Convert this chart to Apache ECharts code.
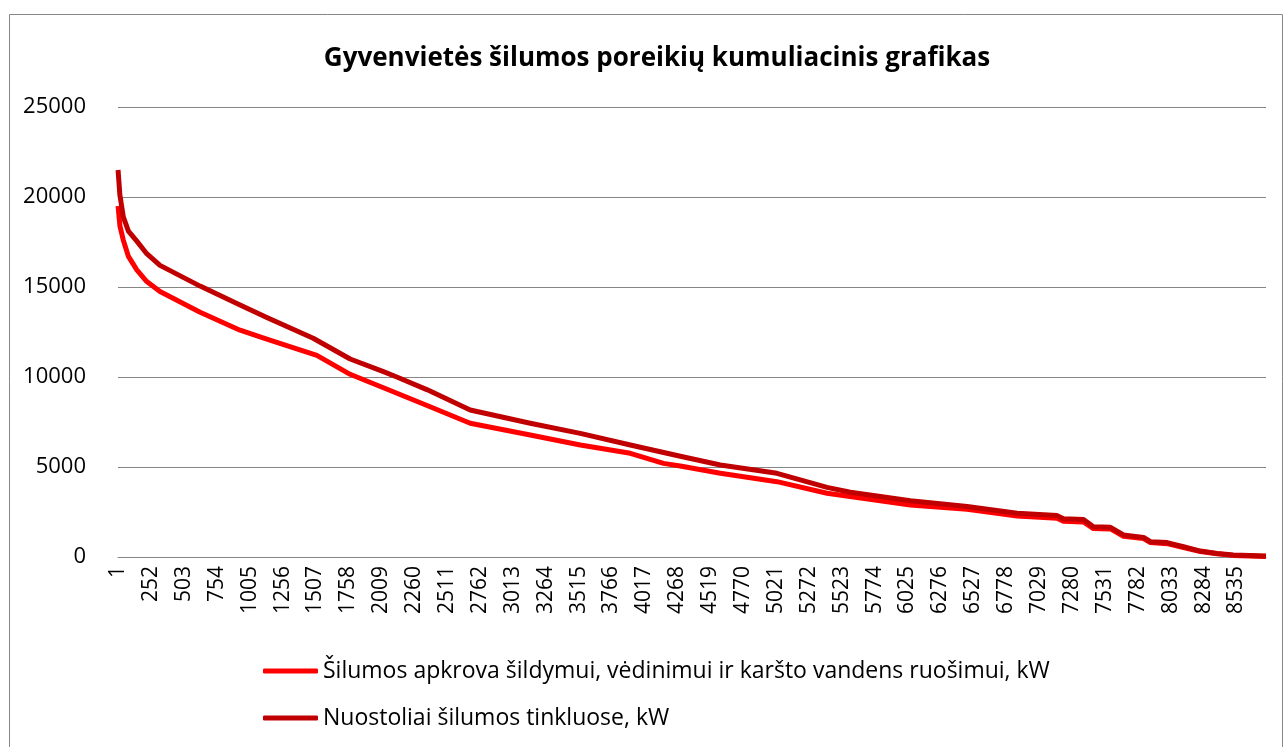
<!DOCTYPE html>
<html lang="lt">
<head>
    <meta charset="UTF-8">
    <title>Gyvenvietės šilumos poreikių kumuliacinis grafikas</title>
    <script src="https://cdn.jsdelivr.net/npm/echarts@6/dist/echarts.min.js"></script>
    <style>
        html, body { margin: 0; padding: 0; background: #fff; }
    </style>
</head>
<body>
<div id="myDiv" style="width: 1285px;height: 747px"></div>

<script>
    // valandų numeriai (kategorijos) 1..8760
    var hours = Array.from({length: 8760}, function (_, i) { return String(i + 1); });

    // Šilumos apkrova šildymui, vėdinimui ir karšto vandens ruošimui, kW (nuskaityta nuo grafiko)
    var loadHours = [1, 15, 41, 80, 144, 220, 321, 627, 932, 1136, 1518, 1772, 1823, 2026, 2382, 2688, 3146, 3528, 3910, 4163, 4291, 4597, 5029, 5411, 6047, 6480, 6862, 7167, 7215, 7368, 7444, 7574, 7673, 7826, 7879, 8006, 8131, 8261, 8388, 8512, 8760];
    var loadValues = [19500, 18400, 17600, 16700, 15950, 15300, 14750, 13600, 12600, 12100, 11200, 10150, 10000, 9400, 8350, 7430, 6780, 6220, 5760, 5200, 5060, 4650, 4185, 3540, 2890, 2650, 2280, 2150, 1980, 1950, 1580, 1560, 1150, 1020, 800, 740, 520, 300, 180, 90, 30];

    // Nuostoliai šilumos tinkluose, kW (viršutinė kreivė)
    var lossHours = [1, 15, 41, 80, 144, 220, 321, 627, 932, 1136, 1490, 1772, 2026, 2128, 2357, 2688, 3146, 3528, 3910, 4291, 4597, 5029, 5411, 5589, 6047, 6480, 6862, 7167, 7215, 7368, 7444, 7574, 7673, 7826, 7879, 8006, 8131, 8261, 8388, 8512, 8760];
    var lossValues = [21500, 20100, 18900, 18100, 17550, 16850, 16200, 15050, 14000, 13300, 12150, 11000, 10300, 10000, 9300, 8170, 7430, 6870, 6220, 5600, 5110, 4650, 3870, 3600, 3130, 2800, 2430, 2300, 2120, 2080, 1680, 1650, 1230, 1090, 850, 800, 570, 330, 200, 110, 50];

    var yTicks = {min: 0, max: 25000, interval: 5000};

    function pairs(xs, ys) {
        return xs.map(function (h, i) { return [String(h), ys[i]]; });
    }

    var numFont = '"Open Sans", "DejaVu Sans", sans-serif';
    var mainChart = echarts.init(document.getElementById("myDiv"));
    var option = {
        animation: false,
        backgroundColor: '#fff',
        title: {
            text: 'Gyvenvietės šilumos poreikių kumuliacinis grafikas',
            left: 652,
            textAlign: 'center',
            top: 41,
            textStyle: {fontFamily: numFont, fontWeight: 'bold', fontSize: 26, color: '#000'}
        },
        graphic: [{
            type: 'rect',
            shape: {x: 9.5, y: 14.5, width: 1273, height: 760},
            style: {fill: 'none', stroke: '#868686', lineWidth: 1},
            silent: true
        }],
        legend: {
            orient: 'vertical',
            left: 258,
            top: 652,
            itemWidth: 55,
            itemHeight: 5,
            itemGap: 19,
            icon: 'roundRect',
            textStyle: {fontFamily: numFont, fontSize: 23, color: '#000', lineHeight: 28},
            data: ['Šilumos apkrova šildymui, vėdinimui ir karšto vandens ruošimui, kW', 'Nuostoliai šilumos tinkluose, kW']
        },
        grid: {left: 118, right: 19, top: 107, bottom: 190},
        xAxis: {
            type: 'category',
            data: hours,
            boundaryGap: true,
            axisLine: {lineStyle: {color: '#868686', width: 1}},
            axisTick: {show: false},
            axisLabel: {
                interval: 250,
                rotate: 90,
                margin: 9,
                fontFamily: numFont,
                fontSize: 21,
                color: '#000'
            },
            splitLine: {show: false}
        },
        yAxis: {
            type: 'value',
            min: yTicks.min,
            max: yTicks.max,
            interval: yTicks.interval,
            axisLine: {show: false},
            axisTick: {show: false},
            axisLabel: {
                margin: 32,
                fontFamily: numFont,
                fontSize: 22,
                color: '#000',
                formatter: function (v) { return String(v); }
            },
            splitLine: {lineStyle: {color: '#868686', width: 1}}
        },
        series: [
            {
                name: 'Šilumos apkrova šildymui, vėdinimui ir karšto vandens ruošimui, kW',
                type: 'line',
                data: pairs(loadHours, loadValues),
                showSymbol: false,
                itemStyle: {color: '#FF0000'},
                lineStyle: {color: '#FF0000', width: 5, join: 'round'}
            },
            {
                name: 'Nuostoliai šilumos tinkluose, kW',
                type: 'line',
                data: pairs(lossHours, lossValues),
                showSymbol: false,
                itemStyle: {color: '#C00000'},
                lineStyle: {color: '#C00000', width: 5, join: 'round'}
            }
        ]
    };
    mainChart.setOption(option);
</script>
</body>
</html>
